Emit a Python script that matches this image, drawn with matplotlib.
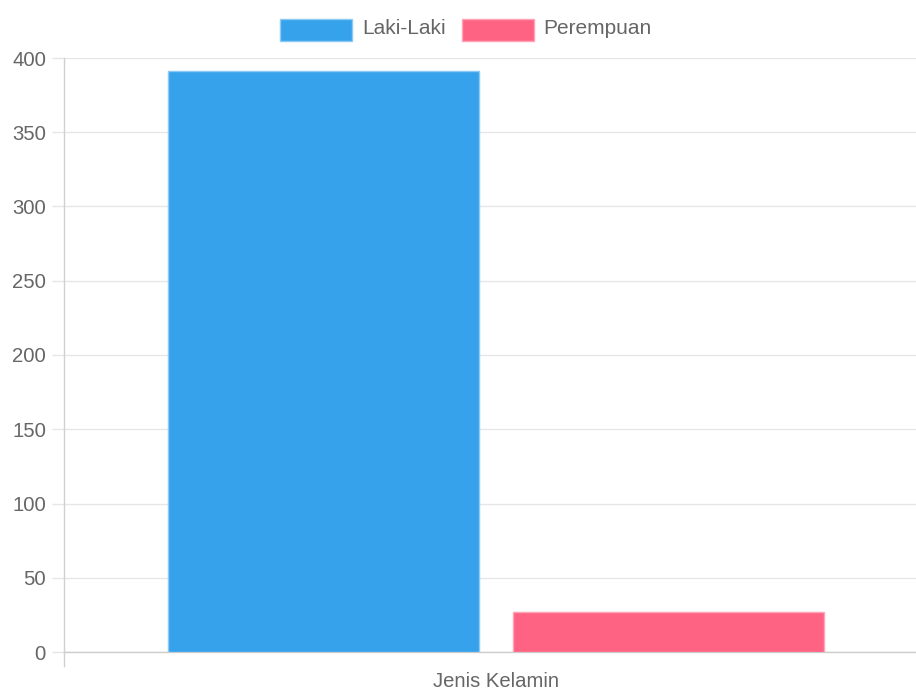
import matplotlib
matplotlib.use("Agg")
import matplotlib.pyplot as plt
from matplotlib.patches import Rectangle
from matplotlib.lines import Line2D

plt.rcParams['font.family'] = ['Liberation Sans', 'DejaVu Sans']

categories = ["Jenis Kelamin"]
series_names = ["Laki-Laki", "Perempuan"]
values = [391, 27]
colors = ["#36A2EB", "#FF6384"]
edge_colors = ["#8ccaf5", "#ffa3b5"]
y_ticks = [0, 50, 100, 150, 200, 250, 300, 350, 400]

FS = 14.6
W, H = 916, 690
fig = plt.figure(figsize=(W / 100, H / 100), dpi=100)
left_px, right_px, top_px, bot_px = 64, 916, 58, 652
ax = fig.add_axes([left_px / W, 1 - bot_px / H, (right_px - left_px) / W, (bot_px - top_px) / H])

bar_w = 0.36
offsets = [-0.1997, 0.1997]
for name, v, c, ec, off in zip(series_names, values, colors, edge_colors, offsets):
    ax.bar(0 + off, v, width=bar_w, color=c, edgecolor=ec, linewidth=1.0, zorder=3, label=name)

ax.set_ylim(0, 400)
ax.set_xlim(-0.5, -0.5 + 852 / 864)
ax.set_yticks(y_ticks)
ax.set_yticklabels([str(t) for t in y_ticks])
ax.set_xticks([0])
ax.set_xticklabels(categories)

ax.grid(axis='y', color='#e6e6e6', linewidth=1.0, zorder=0)
ax.set_axisbelow(True)
for s in ['top', 'right']:
    ax.spines[s].set_visible(False)
ax.spines['left'].set_color('#d0d0d0')
ax.spines['bottom'].set_color('#cccccc')
ax.spines['left'].set_linewidth(1.0)
ax.spines['bottom'].set_linewidth(1.0)

ax.tick_params(axis='y', length=9, color='#e6e6e6', width=1.0, pad=4, labelsize=FS, labelcolor='#666666')
ax.tick_params(axis='x', length=0, pad=14.5, labelsize=FS, labelcolor='#666666')

# vertical x-grid stub below axis at left edge
fig.add_artist(Line2D([left_px / W, left_px / W], [1 - bot_px / H, 1 - 666 / H], color='#d0d0d0', linewidth=1.0))

# legend drawn manually
legend_items = [(280, 362), (462, 543)]
for (bx, tx), name, c, ec in zip(legend_items, series_names, colors, edge_colors):
    fig.add_artist(Rectangle((bx / W, 1 - 41 / H), 72 / W, 22 / H, facecolor=c, edgecolor=ec, linewidth=1.0))
    fig.text(tx / W, 1 - 29 / H, name, fontsize=15.0, color='#666666', va='center', ha='left')

fig.savefig("out.png", dpi=100)
